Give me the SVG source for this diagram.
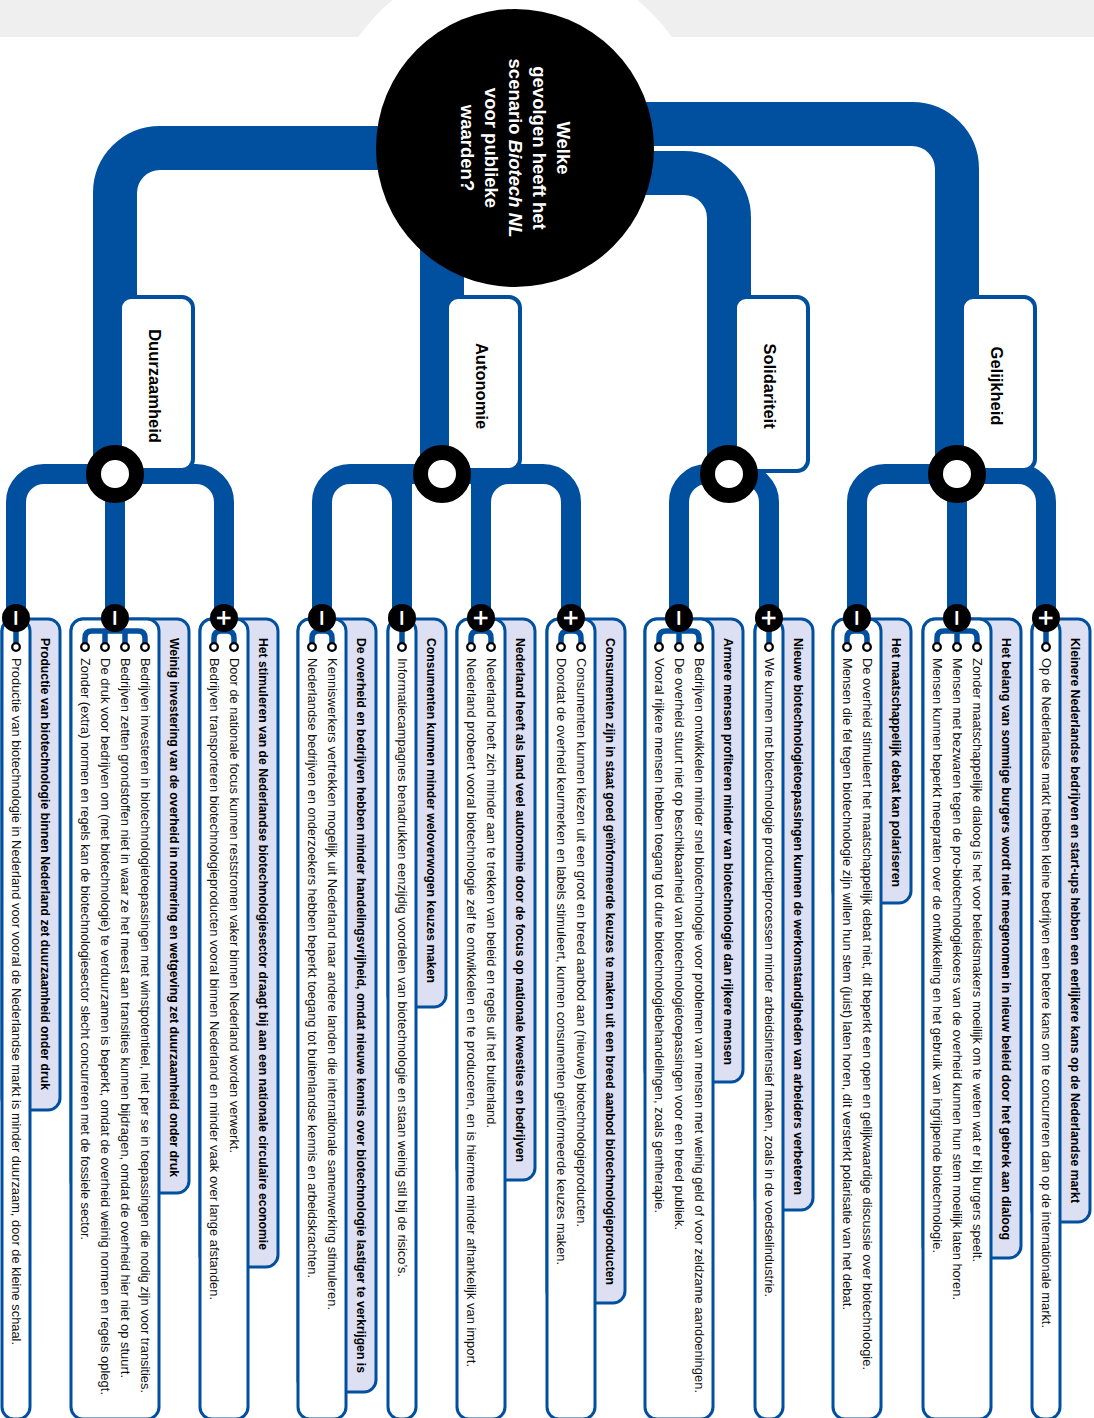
<svg xmlns="http://www.w3.org/2000/svg" width="1094" height="1418" viewBox="0 0 1094 1418">
<style>
.trunk{fill:none;stroke:#00509f;stroke-width:44}
.branch{fill:none;stroke:#00509f;stroke-width:20}
.box{fill:#fff;stroke:#00509f;stroke-width:4}
.ring{fill:#fff;stroke:#000;stroke-width:15}
.lav{fill:#dde0f3;stroke:#00509f;stroke-width:3}
.card{fill:#fff;stroke:#00509f;stroke-width:3}
.brk{fill:none;stroke:#00509f;stroke-width:5.5}
.bul{fill:#fff;stroke:#000;stroke-width:2.3}
.sn{fill:#000}
.sg{font-family:"DejaVu Sans",sans-serif;font-weight:bold;font-size:22px;fill:#fff;text-anchor:middle;dominant-baseline:central}
.it{font-family:"Liberation Sans",Arial,sans-serif;font-size:13.5px;fill:#111;dominant-baseline:central}
.it.lg{font-size:12.8px}
.hd{font-family:"Liberation Sans",Arial,sans-serif;font-size:13px;font-weight:bold;fill:#000;dominant-baseline:central}
.lbl{font-family:"Liberation Sans",Arial,sans-serif;font-size:16.5px;font-weight:bold;fill:#000;text-anchor:middle;dominant-baseline:central}
.q{font-family:"Liberation Sans",Arial,sans-serif;font-size:18.5px;font-weight:bold;fill:#fff;text-anchor:middle}
</style>
<rect x="0" y="0" width="1094" height="37" fill="#efefef"/>
<circle cx="515" cy="148" r="192" fill="#fff"/>

<g id="connectors">
<path class="trunk" d="M420 148H160A45 45 0 0 0 115 193V474"/>
<path class="trunk" d="M442 200V474"/>
<path class="trunk" d="M600 173H684A45 45 0 0 1 729 218V474"/>
<path class="trunk" d="M600 124H912A45 45 0 0 1 957 169V474"/>
<path class="branch" d="M115 474H44A28 28 0 0 0 16 502V612"/>
<path class="branch" d="M115 474V612"/>
<path class="branch" d="M115 474H196A28 28 0 0 1 224 502V612"/>
<path class="branch" d="M442 474H350A28 28 0 0 0 322 502V612"/>
<path class="branch" d="M350 474H374A28 28 0 0 1 402 502V612"/>
<path class="branch" d="M402 474V612"/>
<path class="branch" d="M543 474H509A28 28 0 0 0 481 502V612"/>
<path class="branch" d="M481 474V612"/>
<path class="branch" d="M442 474H543A28 28 0 0 1 571 502V612"/>
<path class="branch" d="M729 474H707A28 28 0 0 0 679 502V612"/>
<path class="branch" d="M729 474H741A28 28 0 0 1 769 502V612"/>
<path class="branch" d="M957 474H885A28 28 0 0 0 857 502V612"/>
<path class="branch" d="M957 474V612"/>
<path class="branch" d="M957 474H1018A28 28 0 0 1 1046 502V612"/>
</g>

<g id="vraag">
<circle cx="515" cy="148" r="139" fill="#000"/>
<g transform="translate(515,148) rotate(90)">
<text class="q" x="0" y="-42">Welke</text>
<text class="q" x="0" y="-18">gevolgen heeft het</text>
<text class="q" x="0" y="6">scenario <tspan font-style="italic">Biotech NL</tspan></text>
<text class="q" x="0" y="30">voor publieke</text>
<text class="q" x="0" y="54">waarden?</text>
</g>
</g>

<g id="duurzaamheid">
<rect class="box" x="120" y="297" width="73" height="173" rx="11"/>
<text class="lbl" transform="translate(155,386) rotate(90)">Duurzaamheid</text>
<circle class="ring" cx="115" cy="474" r="21.5"/>
</g>
<g id="autonomie">
<rect class="box" x="447" y="297" width="73" height="173" rx="11"/>
<text class="lbl" transform="translate(482,386) rotate(90)">Autonomie</text>
<circle class="ring" cx="442" cy="474" r="21.5"/>
</g>
<g id="solidariteit">
<rect class="box" x="735" y="297" width="73" height="174" rx="11"/>
<text class="lbl" transform="translate(770,386) rotate(90)">Solidariteit</text>
<circle class="ring" cx="729" cy="474" r="21.5"/>
</g>
<g id="gelijkheid">
<rect class="box" x="962" y="297" width="73" height="173" rx="11"/>
<text class="lbl" transform="translate(997,386) rotate(90)">Gelijkheid</text>
<circle class="ring" cx="957" cy="474" r="21.5"/>
</g>

<g id="card-1">
<rect class="lav" x="2" y="619" width="58" height="491" rx="12"/>
<rect class="card" x="2" y="619" width="28" height="800" rx="12"/>
<path class="brk" d="M16 618V647"/>
<circle class="bul" cx="16" cy="647" r="3.8"/>
<circle class="sn" cx="16" cy="618" r="14"/>
<text class="sg" transform="translate(16,618) rotate(90)">−</text>
<text class="hd" transform="translate(45,638) rotate(90)" textLength="452" lengthAdjust="spacingAndGlyphs">Productie van biotechnologie binnen Nederland zet duurzaamheid onder druk</text>
<text class="it" transform="translate(16,658) rotate(90)" textLength="687" lengthAdjust="spacingAndGlyphs">Productie van biotechnologie in Nederland voor vooral de Nederlandse markt is minder duurzaam, door de kleine schaal.</text>
</g>

<g id="card-2">
<rect class="lav" x="71" y="619" width="118" height="574" rx="12"/>
<rect class="card" x="71" y="619" width="88" height="800" rx="12"/>
<path class="brk" d="M85 647V638Q85 631 92 631H138Q145 631 145 638V647M105 631V647M125 631V647M115 618V631"/>
<circle class="bul" cx="85" cy="647" r="3.8"/>
<circle class="bul" cx="105" cy="647" r="3.8"/>
<circle class="bul" cx="125" cy="647" r="3.8"/>
<circle class="bul" cx="145" cy="647" r="3.8"/>
<circle class="sn" cx="115" cy="618" r="14"/>
<text class="sg" transform="translate(115,618) rotate(90)">−</text>
<text class="hd" transform="translate(174,638) rotate(90)" textLength="539" lengthAdjust="spacingAndGlyphs">Weinig investering van de overheid in normering en wetgeving zet duurzaamheid onder druk</text>
<text class="it lg" transform="translate(145,658) rotate(90)" textLength="735" lengthAdjust="spacingAndGlyphs">Bedrijven investeren in biotechnologietoepassingen met winstpotentieel, niet per se in toepassingen die nodig zijn voor transities.</text>
<text class="it" transform="translate(125,658) rotate(90)" textLength="720" lengthAdjust="spacingAndGlyphs">Bedrijven zetten grondstoffen niet in waar ze het meest aan transities kunnen bijdragen, omdat de overheid hier niet op stuurt.</text>
<text class="it lg" transform="translate(105,658) rotate(90)" textLength="737" lengthAdjust="spacingAndGlyphs">De druk voor bedrijven om (met biotechnologie) te verduurzamen is beperkt, omdat de overheid weinig normen en regels oplegt.</text>
<text class="it" transform="translate(85,658) rotate(90)" textLength="582" lengthAdjust="spacingAndGlyphs">Zonder (extra) normen en regels kan de biotechnologiesector slecht concurreren met de fossiele sector.</text>
</g>

<g id="card-3">
<rect class="lav" x="200" y="619" width="78" height="648" rx="12"/>
<rect class="card" x="200" y="619" width="48" height="800" rx="12"/>
<path class="brk" d="M214 647V638Q214 631 221 631H227Q234 631 234 638V647M224 618V631"/>
<circle class="bul" cx="214" cy="647" r="3.8"/>
<circle class="bul" cx="234" cy="647" r="3.8"/>
<circle class="sn" cx="224" cy="618" r="14"/>
<text class="sg" transform="translate(224,618) rotate(90)">+</text>
<text class="hd" transform="translate(263,638) rotate(90)" textLength="612" lengthAdjust="spacingAndGlyphs">Het stimuleren van de Nederlandse biotechnologiesector draagt bij aan een nationale circulaire economie</text>
<text class="it" transform="translate(234,658) rotate(90)" textLength="495" lengthAdjust="spacingAndGlyphs">Door de nationale focus kunnen reststromen vaker binnen Nederland worden verwerkt.</text>
<text class="it" transform="translate(214,658) rotate(90)" textLength="642" lengthAdjust="spacingAndGlyphs">Bedrijven transporteren biotechnologieproducten vooral binnen Nederland en minder vaak over lange afstanden.</text>
</g>

<g id="card-4">
<rect class="lav" x="298" y="619" width="78" height="773" rx="12"/>
<rect class="card" x="298" y="619" width="48" height="800" rx="12"/>
<path class="brk" d="M312 647V638Q312 631 319 631H325Q332 631 332 638V647M322 618V631"/>
<circle class="bul" cx="312" cy="647" r="3.8"/>
<circle class="bul" cx="332" cy="647" r="3.8"/>
<circle class="sn" cx="322" cy="618" r="14"/>
<text class="sg" transform="translate(322,618) rotate(90)">−</text>
<text class="hd" transform="translate(361,638) rotate(90)" textLength="735" lengthAdjust="spacingAndGlyphs">De overheid en bedrijven hebben minder handelingsvrijheid, omdat nieuwe kennis over biotechnologie lastiger te verkrijgen is</text>
<text class="it" transform="translate(332,658) rotate(90)" textLength="652" lengthAdjust="spacingAndGlyphs">Kenniswerkers vertrekken mogelijk uit Nederland naar andere landen die internationale samenwerking stimuleren.</text>
<text class="it" transform="translate(312,658) rotate(90)" textLength="620" lengthAdjust="spacingAndGlyphs">Nederlandse bedrijven en onderzoekers hebben beperkt toegang tot buitenlandse kennis en arbeidskrachten.</text>
</g>

<g id="card-5">
<rect class="lav" x="388" y="619" width="58" height="388" rx="12"/>
<rect class="card" x="388" y="619" width="28" height="800" rx="12"/>
<path class="brk" d="M402 618V647"/>
<circle class="bul" cx="402" cy="647" r="3.8"/>
<circle class="sn" cx="402" cy="618" r="14"/>
<text class="sg" transform="translate(402,618) rotate(90)">−</text>
<text class="hd" transform="translate(431,638) rotate(90)" textLength="345" lengthAdjust="spacingAndGlyphs">Consumenten kunnen minder weloverwogen keuzes maken</text>
<text class="it" transform="translate(402,658) rotate(90)" textLength="619" lengthAdjust="spacingAndGlyphs">Informatiecampagnes benadrukken eenzijdig voordelen van biotechnologie en staan weinig stil bij de risico’s.</text>
</g>

<g id="card-6">
<rect class="lav" x="457" y="619" width="78" height="561" rx="12"/>
<rect class="card" x="457" y="619" width="48" height="800" rx="12"/>
<path class="brk" d="M471 647V638Q471 631 478 631H484Q491 631 491 638V647M481 618V631"/>
<circle class="bul" cx="471" cy="647" r="3.8"/>
<circle class="bul" cx="491" cy="647" r="3.8"/>
<circle class="sn" cx="481" cy="618" r="14"/>
<text class="sg" transform="translate(481,618) rotate(90)">+</text>
<text class="hd" transform="translate(520,638) rotate(90)" textLength="524" lengthAdjust="spacingAndGlyphs">Nederland heeft als land veel autonomie door de focus op nationale kwesties en bedrijven</text>
<text class="it" transform="translate(491,658) rotate(90)" textLength="470" lengthAdjust="spacingAndGlyphs">Nederland hoeft zich minder aan te trekken van beleid en regels uit het buitenland.</text>
<text class="it" transform="translate(471,658) rotate(90)" textLength="709" lengthAdjust="spacingAndGlyphs">Nederland probeert vooral biotechnologie zelf te ontwikkelen en te produceren, en is hiermee minder afhankelijk van import.</text>
</g>

<g id="card-7">
<rect class="lav" x="547" y="619" width="78" height="684" rx="12"/>
<rect class="card" x="547" y="619" width="48" height="800" rx="12"/>
<path class="brk" d="M561 647V638Q561 631 568 631H574Q581 631 581 638V647M571 618V631"/>
<circle class="bul" cx="561" cy="647" r="3.8"/>
<circle class="bul" cx="581" cy="647" r="3.8"/>
<circle class="sn" cx="571" cy="618" r="14"/>
<text class="sg" transform="translate(571,618) rotate(90)">+</text>
<text class="hd" transform="translate(610,638) rotate(90)" textLength="647" lengthAdjust="spacingAndGlyphs">Consumenten zijn in staat goed geïnformeerde keuzes te maken uit een breed aanbod biotechnologieproducten</text>
<text class="it" transform="translate(581,658) rotate(90)" textLength="569" lengthAdjust="spacingAndGlyphs">Consumenten kunnen kiezen uit een groot en breed aanbod aan (nieuwe) biotechnologieproducten.</text>
<text class="it" transform="translate(561,658) rotate(90)" textLength="607" lengthAdjust="spacingAndGlyphs">Doordat de overheid keurmerken en labels stimuleert, kunnen consumenten geïnformeerde keuzes maken.</text>
</g>

<g id="card-8">
<rect class="lav" x="645" y="619" width="98" height="463" rx="12"/>
<rect class="card" x="645" y="619" width="68" height="800" rx="12"/>
<path class="brk" d="M659 647V638Q659 631 666 631H692Q699 631 699 638V647M679 618V647"/>
<circle class="bul" cx="659" cy="647" r="3.8"/>
<circle class="bul" cx="679" cy="647" r="3.8"/>
<circle class="bul" cx="699" cy="647" r="3.8"/>
<circle class="sn" cx="679" cy="618" r="14"/>
<text class="sg" transform="translate(679,618) rotate(90)">−</text>
<text class="hd" transform="translate(728,638) rotate(90)" textLength="427" lengthAdjust="spacingAndGlyphs">Armere mensen profiteren minder van biotechnologie dan rijkere mensen</text>
<text class="it lg" transform="translate(699,658) rotate(90)" textLength="735" lengthAdjust="spacingAndGlyphs">Bedrijven ontwikkelen minder snel biotechnologie voor problemen van mensen met weinig geld of voor zeldzame aandoeningen.</text>
<text class="it" transform="translate(679,658) rotate(90)" textLength="572" lengthAdjust="spacingAndGlyphs">De overheid stuurt niet op beschikbaarheid van biotechnologietoepassingen voor een breed publiek.</text>
<text class="it" transform="translate(659,658) rotate(90)" textLength="555" lengthAdjust="spacingAndGlyphs">Vooral rijkere mensen hebben toegang tot dure biotechnologiebehandelingen, zoals gentherapie.</text>
</g>

<g id="card-9">
<rect class="lav" x="755" y="619" width="58" height="591" rx="12"/>
<rect class="card" x="755" y="619" width="28" height="800" rx="12"/>
<path class="brk" d="M769 618V647"/>
<circle class="bul" cx="769" cy="647" r="3.8"/>
<circle class="sn" cx="769" cy="618" r="14"/>
<text class="sg" transform="translate(769,618) rotate(90)">+</text>
<text class="hd" transform="translate(798,638) rotate(90)" textLength="557" lengthAdjust="spacingAndGlyphs">Nieuwe biotechnologietoepassingen kunnen de werkomstandigheden van arbeiders verbeteren</text>
<text class="it" transform="translate(769,658) rotate(90)" textLength="639" lengthAdjust="spacingAndGlyphs">We kunnen met biotechnologie productieprocessen minder arbeidsintensief maken, zoals in de voedselindustrie.</text>
</g>

<g id="card-10">
<rect class="lav" x="833" y="619" width="78" height="284" rx="12"/>
<rect class="card" x="833" y="619" width="48" height="800" rx="12"/>
<path class="brk" d="M847 647V638Q847 631 854 631H860Q867 631 867 638V647M857 618V631"/>
<circle class="bul" cx="847" cy="647" r="3.8"/>
<circle class="bul" cx="867" cy="647" r="3.8"/>
<circle class="sn" cx="857" cy="618" r="14"/>
<text class="sg" transform="translate(857,618) rotate(90)">−</text>
<text class="hd" transform="translate(896,638) rotate(90)" textLength="249" lengthAdjust="spacingAndGlyphs">Het maatschappelijk debat kan polariseren</text>
<text class="it" transform="translate(867,658) rotate(90)" textLength="712" lengthAdjust="spacingAndGlyphs">De overheid stimuleert het maatschappelijk debat niet, dit beperkt een open en gelijkwaardige discussie over biotechnologie.</text>
<text class="it" transform="translate(847,658) rotate(90)" textLength="652" lengthAdjust="spacingAndGlyphs">Mensen die fel tegen biotechnologie zijn willen hun stem (juist) laten horen, dit versterkt polarisatie van het debat.</text>
</g>

<g id="card-11">
<rect class="lav" x="923" y="619" width="98" height="639" rx="12"/>
<rect class="card" x="923" y="619" width="68" height="800" rx="12"/>
<path class="brk" d="M937 647V638Q937 631 944 631H970Q977 631 977 638V647M957 618V647"/>
<circle class="bul" cx="937" cy="647" r="3.8"/>
<circle class="bul" cx="957" cy="647" r="3.8"/>
<circle class="bul" cx="977" cy="647" r="3.8"/>
<circle class="sn" cx="957" cy="618" r="14"/>
<text class="sg" transform="translate(957,618) rotate(90)">−</text>
<text class="hd" transform="translate(1006,638) rotate(90)" textLength="602" lengthAdjust="spacingAndGlyphs">Het belang van sommige burgers wordt niet meegenomen in nieuw beleid door het gebrek aan dialoog</text>
<text class="it" transform="translate(977,658) rotate(90)" textLength="604" lengthAdjust="spacingAndGlyphs">Zonder maatschappelijke dialoog is het voor beleidsmakers moeilijk om te weten wat er bij burgers speelt.</text>
<text class="it" transform="translate(957,658) rotate(90)" textLength="642" lengthAdjust="spacingAndGlyphs">Mensen met bezwaren tegen de pro-biotechnologiekoers van de overheid kunnen hun stem moeilijk laten horen.</text>
<text class="it" transform="translate(937,658) rotate(90)" textLength="595" lengthAdjust="spacingAndGlyphs">Mensen kunnen beperkt meepraten over de ontwikkeling en het gebruik van ingrijpende biotechnologie.</text>
</g>

<g id="card-12">
<rect class="lav" x="1032" y="619" width="58" height="603" rx="12"/>
<rect class="card" x="1032" y="619" width="28" height="800" rx="12"/>
<path class="brk" d="M1046 618V647"/>
<circle class="bul" cx="1046" cy="647" r="3.8"/>
<circle class="sn" cx="1046" cy="618" r="14"/>
<text class="sg" transform="translate(1046,618) rotate(90)">+</text>
<text class="hd" transform="translate(1075,638) rotate(90)" textLength="565" lengthAdjust="spacingAndGlyphs">Kleinere Nederlandse bedrijven en start-ups hebben een eerlijkere kans op de Nederlandse markt</text>
<text class="it" transform="translate(1046,658) rotate(90)" textLength="670" lengthAdjust="spacingAndGlyphs">Op de Nederlandse markt hebben kleine bedrijven een betere kans om te concurreren dan op de internationale markt.</text>
</g>
</svg>
